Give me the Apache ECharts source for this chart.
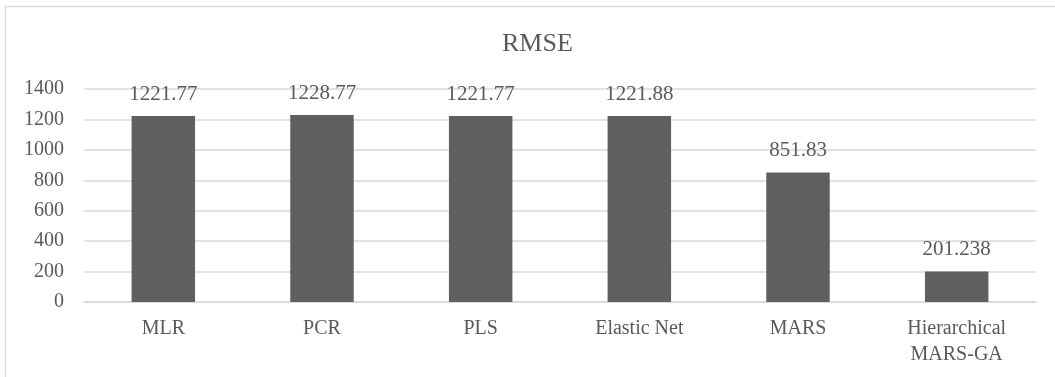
<!DOCTYPE html>
<html>
<head>
<meta charset="utf-8">
<style>html,body{margin:0;padding:0;background:#fff;}#c{width:1055px;height:377px;}</style>
<script src="https://cdn.jsdelivr.net/npm/echarts@6/dist/echarts.min.js"></script>
</head>
<body>
<div id="c"></div>
<script>
const categories = ['MLR', 'PCR', 'PLS', 'Elastic Net', 'MARS', 'Hierarchical\nMARS-GA'];
const rmseValues = [1221.77, 1228.77, 1221.77, 1221.88, 851.83, 201.238];
const titleText = 'RMSE';
const yMin = 0, yMax = 1400, yStep = 200;

const font = '"Liberation Serif", "Times New Roman", serif';
const txt = '#595959';
const chart = echarts.init(document.getElementById('c'));
chart.setOption({
  animation: false,
  backgroundColor: '#fff',
  title: {
    text: titleText, left: 497, top: 26,
    textStyle: { fontFamily: font, fontSize: 26, fontWeight: 'normal', color: txt }
  },
  graphic: [{
    type: 'rect', shape: { x: 5.5, y: 6.5, width: 1100, height: 450 },
    style: { fill: 'none', stroke: '#d9d9d9', lineWidth: 1.5 }, silent: true
  }],
  grid: { left: 84, right: 19, top: 89, bottom: 75 },
  xAxis: {
    type: 'category', data: categories,
    axisLine: { show: true, lineStyle: { color: '#d9d9d9', width: 1.5 } },
    axisTick: { show: false },
    axisLabel: { fontFamily: font, fontSize: 20, color: txt, margin: 14, lineHeight: 26, interval: 0 }
  },
  yAxis: {
    type: 'value', min: yMin, max: yMax, interval: yStep,
    axisLine: { show: false }, axisTick: { show: false },
    splitLine: { lineStyle: { color: '#d9d9d9', width: 1.5 } },
    axisLabel: { fontFamily: font, fontSize: 20, color: txt, margin: 20, formatter: v => String(v) }
  },
  series: [{
    type: 'bar', data: rmseValues, barCategoryGap: '60%',
    itemStyle: { color: '#5f5f5f' },
    label: {
      show: true, position: 'top', distance: 11,
      fontFamily: font, fontSize: 21, color: txt,
      formatter: p => String(p.value)
    }
  }]
});
</script>
</body>
</html>
